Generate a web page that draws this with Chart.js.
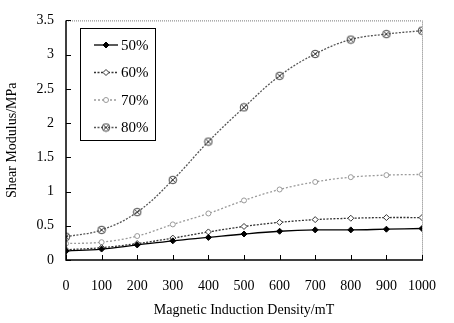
<!DOCTYPE html>
<html>
<head>
<meta charset="utf-8">
<script src="https://cdn.jsdelivr.net/npm/chart.js@4"></script>
<style>
  html, body { margin: 0; padding: 0; background: #fff; }
  #wrap { width: 454px; height: 323px; }
</style>
</head>
<body>
<div id="wrap"><canvas id="grafico" width="454" height="323"></canvas></div>
<script>
// dados
const campo = [0, 100, 200, 300, 400, 500, 600, 700, 800, 900, 1000];
const serie50 = [0.13, 0.16, 0.22, 0.28, 0.33, 0.38, 0.42, 0.44, 0.44, 0.45, 0.46];
const serie60 = [0.15, 0.18, 0.24, 0.32, 0.41, 0.49, 0.55, 0.59, 0.61, 0.62, 0.62];
const serie70 = [0.24, 0.26, 0.35, 0.52, 0.68, 0.87, 1.03, 1.14, 1.21, 1.24, 1.25];
const serie80 = [0.34, 0.44, 0.70, 1.17, 1.73, 2.23, 2.69, 3.01, 3.22, 3.30, 3.35];
const nomes = ['50%', '60%', '70%', '80%'];

// marcador X dentro de circulo
function marcaX(cor) {
  const c = document.createElement('canvas');
  c.width = 10; c.height = 10;
  const g = c.getContext('2d');
  g.strokeStyle = cor; g.lineWidth = 1;
  g.beginPath(); g.arc(5, 5, 3.8, 0, Math.PI * 2); g.stroke();
  g.beginPath();
  g.moveTo(2, 2); g.lineTo(8, 8);
  g.moveTo(8, 2); g.lineTo(2, 8);
  g.stroke();
  return c;
}

function serie(label, data, cor, dash, ponto, fundo, raio) {
  return {
    label: label,
    data: data,
    borderColor: cor,
    borderWidth: 1.3,
    borderDash: dash,
    pointStyle: ponto,
    pointRadius: raio,
    pointBorderColor: cor,
    pointBackgroundColor: fundo,
    pointBorderWidth: 1,
    tension: 0.4,
    fill: false
  };
}

// eixos, bordas e legenda desenhados sobre as escalas do grafico
const moldura = {
  id: 'moldura',
  afterDraw(chart) {
    const ctx = chart.ctx;
    const a = chart.chartArea;
    const sx = chart.scales.x, sy = chart.scales.y;
    ctx.save();
    // borda pontilhada cima/direita
    ctx.strokeStyle = '#777';
    ctx.lineWidth = 1;
    ctx.setLineDash([1, 1]);
    ctx.beginPath();
    ctx.moveTo(a.left, a.top + 0.5); ctx.lineTo(a.right + 0.5, a.top + 0.5);
    ctx.lineTo(a.right + 0.5, a.bottom);
    ctx.stroke();
    ctx.setLineDash([]);
    // eixos solidos
    ctx.strokeStyle = '#000';
    ctx.lineWidth = 1.5;
    ctx.beginPath();
    ctx.moveTo(a.left, a.top); ctx.lineTo(a.left, a.bottom); ctx.lineTo(a.right + 1, a.bottom);
    ctx.stroke();
    // marcas internas
    ctx.lineWidth = 1;
    ctx.beginPath();
    sx.ticks.forEach((t, i) => {
      const px = Math.round(sx.getPixelForTick(i)) + 0.5;
      ctx.moveTo(px, a.bottom); ctx.lineTo(px, a.bottom - 5);
    });
    sy.ticks.forEach((t, i) => {
      const py = Math.round(sy.getPixelForTick(i)) + 0.5;
      ctx.moveTo(a.left, py); ctx.lineTo(a.left + 5, py);
    });
    ctx.stroke();
    // legenda
    const bx = 80, by = 28, bw = 75, bh = 112;
    ctx.fillStyle = '#fff';
    ctx.fillRect(bx, by, bw, bh);
    ctx.strokeStyle = '#000';
    ctx.lineWidth = 1;
    ctx.strokeRect(bx + 0.5, by + 0.5, bw, bh);
    ctx.font = '15px "Liberation Serif"';
    ctx.textBaseline = 'middle';
    chart.data.datasets.forEach((ds, i) => {
      const y = by + 17 + i * 27.5;
      ctx.strokeStyle = ds.borderColor;
      ctx.lineWidth = ds.borderWidth;
      ctx.setLineDash(ds.borderDash || []);
      ctx.beginPath(); ctx.moveTo(bx + 14, y); ctx.lineTo(bx + 38, y); ctx.stroke();
      ctx.setLineDash([]);
      ctx.fillStyle = ds.pointBackgroundColor;
      ctx.strokeStyle = ds.pointBorderColor;
      ctx.lineWidth = 1;
      Chart.helpers.drawPoint(ctx, {
        pointStyle: ds.pointStyle, radius: ds.pointRadius, borderWidth: 1, rotation: 0
      }, bx + 26, y);
      ctx.fillStyle = '#000';
      ctx.fillText(ds.label, bx + 41, y + 1);
    });
    ctx.restore();
  }
};

const Status = document.getElementById('grafico');

new Chart(Status, {
  type: 'line',
  data: {
    labels: campo,
    datasets: [
      serie(nomes[0], serie50, '#000', [], 'rectRot', '#000', 3),
      serie(nomes[1], serie60, '#333', [2, 1.5], 'rectRot', '#fff', 3),
      serie(nomes[2], serie70, '#9a9a9a', [2, 2], 'circle', '#fff', 2.5),
      serie(nomes[3], serie80, '#555', [2, 1.5], marcaX('#444'), '#fff', 4)
    ]
  },
  plugins: [moldura],
  options: {
    responsive: false,
    animation: false,
    layout: { padding: { top: 11, right: 15, left: 0, bottom: 0 } },
    plugins: {
      legend: { display: false },
      tooltip: { enabled: false }
    },
    scales: {
      x: {
        type: 'linear',
        min: 0, max: 1000,
        afterFit: s => { s.height = 63; },
        grid: { display: false, drawTicks: false },
        border: { display: false },
        ticks: {
          stepSize: 100,
          padding: 18,
          maxRotation: 0,
          autoSkip: false,
          color: '#000',
          callback: v => String(v),
          font: { family: 'Liberation Serif', size: 14 }
        },
        title: {
          display: true,
          text: 'Magnetic Induction Density/mT',
          color: '#000',
          padding: { top: 8 },
          font: { family: 'Liberation Serif', size: 14 }
        }
      },
      y: {
        min: 0, max: 3.5,
        afterFit: s => { s.width = 66; },
        grid: { display: false, drawTicks: false },
        border: { display: false },
        ticks: {
          stepSize: 0.5,
          padding: 12,
          color: '#000',
          callback: v => String(v),
          font: { family: 'Liberation Serif', size: 14 }
        },
        title: {
          display: true,
          text: 'Shear Modulus/MPa',
          color: '#000',
          padding: { bottom: 0 },
          font: { family: 'Liberation Serif', size: 14 }
        }
      }
    }
  }
});
</script>
</body>
</html>
